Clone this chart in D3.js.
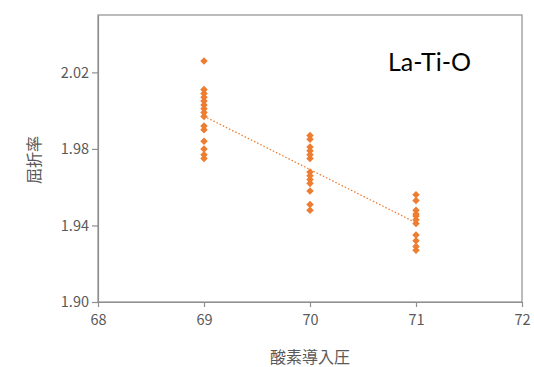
<!DOCTYPE html>
<html>
<head>
<meta charset="utf-8">
<script src="https://cdn.jsdelivr.net/npm/d3@7"></script>
<style>
  body { margin: 0; background: #fff; }
  svg { display: block; }
</style>
</head>
<body>
<svg width="534" height="367"></svg>
<script>
// pressure groups and refractive index readings
var pressures = [69, 70, 71];
var index69 = [2.026, 2.011, 2.009, 2.007, 2.005, 2.003, 2.001, 1.999, 1.997, 1.992, 1.990, 1.984, 1.980, 1.977, 1.975];
var index70 = [1.987, 1.985, 1.981, 1.979, 1.977, 1.975, 1.968, 1.966, 1.964, 1.962, 1.958, 1.951, 1.948];
var index71 = [1.956, 1.953, 1.948, 1.946, 1.945, 1.943, 1.941, 1.935, 1.932, 1.929, 1.927];
var xTicks = [68, 69, 70, 71, 72];
var yTicks = [1.90, 1.94, 1.98, 2.02];

var svg = d3.select("svg"),
    margin = {top: 15, right: 12, bottom: 65, left: 98},
    width = svg.attr("width") - margin.left - margin.right,
    height = svg.attr("height") - margin.top - margin.bottom,
    chartGroup = svg.append("g").attr("transform", "translate(" + margin.left + "," + margin.top + ")");

var orange = "#ed7d31", axisColor = "#8f8f8f", textColor = "#595959";

var data = [];
[index69, index70, index71].forEach(function(vals, i) {
  vals.forEach(function(v) { data.push({x: pressures[i], y: v}); });
});

var xScale = d3.scaleLinear().domain([68, 72]).range([0, width]);
var yScale = d3.scaleLinear().domain([1.90, 2.05]).range([height, 0]);

// frame
chartGroup.append("rect")
  .attr("x", 0).attr("y", 0)
  .attr("width", width).attr("height", height)
  .attr("fill", "none")
  .attr("stroke", axisColor)
  .attr("stroke-width", 1.2);

var xAxis = chartGroup.append("g")
  .attr("transform", "translate(0," + height + ")")
  .call(d3.axisBottom(xScale).tickValues(xTicks).tickFormat(d3.format("d")).tickSize(5).tickSizeOuter(0).tickPadding(8));

var yAxis = chartGroup.append("g")
  .call(d3.axisLeft(yScale).tickValues(yTicks).tickFormat(d3.format(".2f")).tickSize(6).tickSizeOuter(0).tickPadding(3));

[xAxis, yAxis].forEach(function(ax) {
  ax.select(".domain").attr("stroke", axisColor).attr("stroke-width", 1.2);
  ax.selectAll(".tick line").attr("stroke", axisColor).attr("stroke-width", 1.2);
  ax.selectAll(".tick text")
    .attr("fill", textColor)
    .style("font", "14.5px 'Noto Sans CJK JP', sans-serif");
});

// linear trendline from the data
var mx = d3.mean(data, function(d) { return d.x; }),
    my = d3.mean(data, function(d) { return d.y; });
var slope = d3.sum(data, function(d) { return (d.x - mx) * (d.y - my); }) /
            d3.sum(data, function(d) { return (d.x - mx) * (d.x - mx); });
var xr = d3.extent(data, function(d) { return d.x; });
var trend = xr.map(function(x) { return {x: x, y: my + slope * (x - mx)}; });

chartGroup.append("path")
  .datum(trend)
  .attr("fill", "none")
  .attr("stroke", orange)
  .attr("stroke-width", 1.3)
  .attr("stroke-dasharray", "1.5,2")
  .attr("d", d3.line().x(function(d) { return xScale(d.x); }).y(function(d) { return yScale(d.y); }));

var diamond = d3.symbol().type(d3.symbolDiamond2).size(36);
chartGroup.selectAll(".pt")
  .data(data)
  .enter().append("path")
  .attr("class", "pt")
  .attr("transform", function(d) { return "translate(" + xScale(d.x) + "," + yScale(d.y) + ")"; })
  .attr("d", diamond)
  .attr("fill", orange);

chartGroup.append("text")
  .attr("x", 290).attr("y", 56)
  .attr("fill", "#000")
  .style("font", "25px Lato, sans-serif")
  .text("La-Ti-O");

svg.append("text")
  .attr("x", margin.left + width / 2).attr("y", 363)
  .attr("text-anchor", "middle")
  .attr("fill", textColor)
  .style("font", "16px 'Noto Sans CJK JP', sans-serif")
  .text("酸素導入圧");

svg.append("text")
  .attr("transform", "translate(40," + (margin.top + 145) + ") rotate(-90)")
  .attr("text-anchor", "middle")
  .attr("fill", textColor)
  .style("font", "16px 'Noto Sans CJK JP', sans-serif")
  .text("屈折率");
</script>
</body>
</html>
